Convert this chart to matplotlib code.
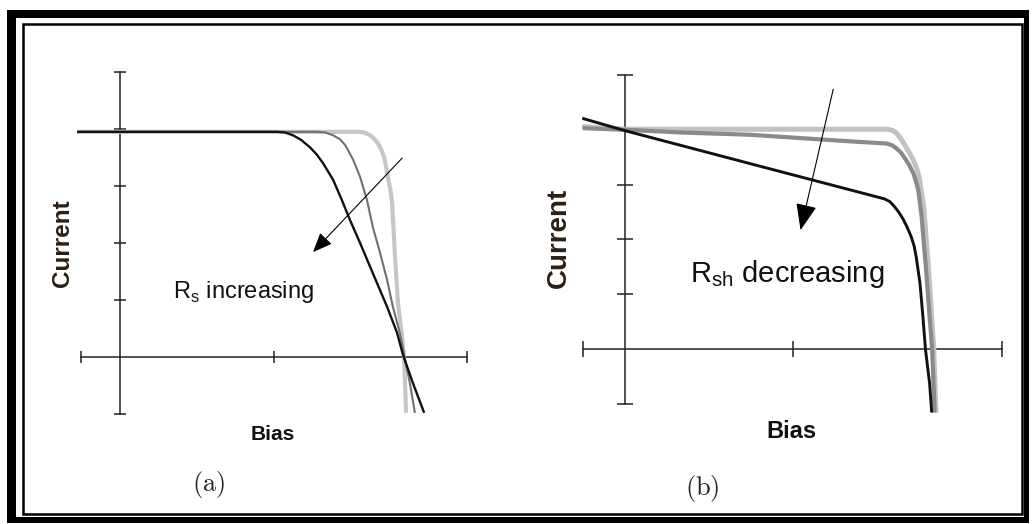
import matplotlib
matplotlib.use("Agg")
import matplotlib.pyplot as plt
from matplotlib.patches import Rectangle

# ---------------- data ----------------
# Panel (a): series resistance increasing (light -> medium -> black)
a_light_x = [-1.11, 6.22, 6.37, 6.48, 6.58, 6.68, 6.76, 6.84, 6.89, 6.94, 7.00, 7.05,
             7.12, 7.20, 7.31, 7.36, 7.41]
a_light_y = [3.95, 3.95, 3.93, 3.89, 3.83, 3.75, 3.65, 3.51, 3.35, 3.16, 2.95, 2.70,
             1.82, 0.95, 0.35, 0.00, -0.98]
a_mid_x = [-1.11, 5.10, 5.31, 5.52, 5.70, 5.83, 5.93, 6.04, 6.22, 6.40, 6.55, 6.74,
           6.92, 7.07, 7.25, 7.36, 7.51, 7.64]
a_mid_y = [3.95, 3.95, 3.94, 3.89, 3.82, 3.72, 3.60, 3.46, 3.16, 2.75, 2.28, 1.82,
           1.35, 0.88, 0.42, 0.04, -0.46, -0.98]
a_dark_x = [-1.11, 4.07, 4.27, 4.48, 4.69, 4.92, 5.10, 5.26, 5.52, 5.75, 5.96, 6.22,
            6.55, 6.92, 7.18, 7.33, 7.59, 7.88]
a_dark_y = [3.95, 3.95, 3.94, 3.89, 3.81, 3.68, 3.55, 3.40, 3.11, 2.75, 2.40, 2.00,
            1.47, 0.88, 0.42, 0.04, -0.46, -0.98]

# Panel (b): shunt resistance decreasing (light -> medium -> black)
b_light_x = [-1.02, 0.02, 6.28, 6.38, 6.48, 6.57, 6.68, 6.78, 6.88, 6.96, 7.02, 7.13,
             7.24, 7.32, 7.37, 7.42]
b_light_y = [4.06, 4.01, 4.01, 3.99, 3.94, 3.85, 3.72, 3.59, 3.45, 3.30, 3.14, 2.60,
             1.50, 0.59, 0.00, -1.16]
b_mid_x = [-1.01, 0.02, 1.38, 2.97, 4.56, 5.36, 6.24, 6.37, 6.48, 6.59, 6.68, 6.78,
           6.88, 6.94, 7.00, 7.08, 7.18, 7.27, 7.33, 7.39]
b_mid_y = [4.03, 4.00, 3.95, 3.91, 3.83, 3.79, 3.75, 3.72, 3.66, 3.58, 3.48, 3.36,
           3.21, 3.07, 2.90, 2.41, 1.50, 0.59, 0.00, -1.16]
b_dark_x = [-1.02, 0.02, 3.00, 6.19, 6.32, 6.43, 6.53, 6.63, 6.73, 6.83, 6.90, 6.95,
            7.04, 7.11, 7.17, 7.27, 7.32]
b_dark_y = [4.21, 3.98, 3.38, 2.74, 2.69, 2.60, 2.50, 2.38, 2.23, 2.05, 1.88, 1.68,
            1.20, 0.59, 0.00, -0.63, -1.16]

# Axis ticks (no tick labels in the original)
x_ticks = [-1, 4, 9]
y_ticks = [-1, 1, 2, 3, 4, 5]

# Annotation arrows (tail, head) in data units
a_arrow_tail = (7.31, 3.49)
a_arrow_head = (5.00, 1.84)
b_arrow_tail = (4.97, 4.74)
b_arrow_head = (4.19, 2.17)

a_note = r"R$_{\mathregular{s}}$ increasing"
b_note = r"R$_{\mathregular{sh}}$ decreasing"
a_note_pos = (1.37, 1.04)
b_note_pos = (1.55, 1.22)

# ---------------- figure ----------------
W, H = 1032, 524
fig = plt.figure(figsize=(W / 100, H / 100), dpi=100)
fig.patch.set_facecolor("white")

SANS = ["Liberation Sans", "DejaVu Sans"]

# background frame (pixel coordinates)
bg = fig.add_axes([0, 0, 1, 1])
bg.set_xlim(0, W)
bg.set_ylim(H, 0)
bg.axis("off")
for (x0, y0, w, h) in [(7, 10, 1022, 8),      # top band
                       (7, 517, 1022, 5.5),   # bottom band
                       (7, 10, 9, 512.5),     # left band
                       (1023.5, 10, 5.5, 512.5)]:  # right band
    bg.add_patch(Rectangle((x0, y0), w, h, facecolor="black", edgecolor="none"))
bg.add_patch(Rectangle((23, 23.8), 998.5, 490.5, facecolor="none",
                       edgecolor="black", linewidth=1.8))


def panel(px_left, px_right, py_top, py_bottom, origin, ux, uy, tick_len):
    ax = fig.add_axes([px_left / W, 1 - py_bottom / H,
                       (px_right - px_left) / W, (py_bottom - py_top) / H])
    ox, oy = origin
    ax.set_xlim((px_left - ox) / ux, (px_right - ox) / ux)
    ax.set_ylim((oy - py_bottom) / uy, (oy - py_top) / uy)
    ax.set_facecolor("none")
    for s in ("top", "right"):
        ax.spines[s].set_visible(False)
    ax.spines["left"].set_position(("data", 0))
    ax.spines["bottom"].set_position(("data", 0))
    ax.spines["left"].set_bounds(min(y_ticks), max(y_ticks))
    ax.spines["bottom"].set_bounds(min(x_ticks), max(x_ticks))
    for s in ("left", "bottom"):
        ax.spines[s].set_linewidth(1.1)
        ax.spines[s].set_color("#222222")
        ax.spines[s].set_zorder(2)
    ax.set_xticks(x_ticks)
    ax.set_yticks(y_ticks)
    ax.set_xticklabels([])
    ax.set_yticklabels([])
    ax.tick_params(direction="inout", length=tick_len, width=1.1, colors="#222222")
    return ax


# ---- panel (a) ----
axa = panel(60, 500, 40, 440, (120, 357), 38.6, 57.0, 9.0)
axa.plot(a_light_x, a_light_y, color="#c6c6c6", lw=3.0, zorder=3,
         solid_capstyle="butt", solid_joinstyle="round")
axa.plot(a_mid_x, a_mid_y, color="#707070", lw=1.5, zorder=4,
         solid_capstyle="butt", solid_joinstyle="round")
axa.plot(a_dark_x, a_dark_y, color="#111111", lw=1.7, zorder=5,
         solid_capstyle="butt", solid_joinstyle="round")
axa.annotate("", xy=a_arrow_head, xytext=a_arrow_tail, zorder=6,
             arrowprops=dict(arrowstyle="-|>,head_length=0.6,head_width=0.25",
                             mutation_scale=20, lw=0.8, color="black",
                             shrinkA=0, shrinkB=0))
axa.text(a_note_pos[0], a_note_pos[1], a_note, family=SANS, fontsize=17,
         color="#111111", ha="left", va="baseline")

# ---- panel (b) ----
axb = panel(560, 1012, 40, 440, (625, 349), 41.9, 54.8, 12.2)
axb.plot(b_light_x, b_light_y, color="#c2c2c2", lw=3.6, zorder=3,
         solid_capstyle="butt", solid_joinstyle="round")
axb.plot(b_mid_x, b_mid_y, color="#8a8a8a", lw=3.0, zorder=4,
         solid_capstyle="butt", solid_joinstyle="round")
axb.plot(b_dark_x, b_dark_y, color="#111111", lw=2.1, zorder=5,
         solid_capstyle="butt", solid_joinstyle="round")
axb.annotate("", xy=b_arrow_head, xytext=b_arrow_tail, zorder=6,
             arrowprops=dict(arrowstyle="-|>,head_length=0.83,head_width=0.33",
                             mutation_scale=20, lw=0.8, color="black",
                             shrinkA=0, shrinkB=0))
axb.text(b_note_pos[0], b_note_pos[1], b_note, family=SANS, fontsize=21,
         color="#111111", ha="left", va="baseline")


def ftext(px, py, s, **kw):
    fig.text(px / W, 1 - py / H, s, ha="center", va="center", **kw)


# axis titles
ftext(63, 243, "Current", rotation=90, family=SANS, fontweight="bold",
      fontsize=17.5, color="#2a1f14")
ftext(273, 435, "Bias", family=SANS, fontweight="bold", fontsize=15, color="#111111")
ftext(559, 238, "Current", rotation=90, family=SANS, fontweight="bold",
      fontsize=20, color="#2a1f14")
ftext(791, 431, "Bias", family=SANS, fontweight="bold", fontsize=17, color="#111111")

# sub-figure captions
ftext(209, 484, r"$\mathrm{(a)}$", math_fontfamily="cm", fontsize=19, color="#222222")
ftext(702, 488, r"$\mathrm{(b)}$", math_fontfamily="cm", fontsize=19, color="#222222")

fig.savefig("out.png", dpi=100)
